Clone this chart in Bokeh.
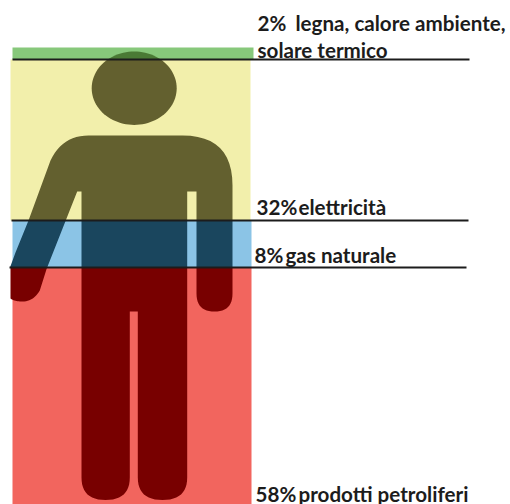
from bokeh.embed import file_html
from bokeh.resources import INLINE
from bokeh.plotting import figure
from bokeh.models import Range1d
from bokeh.core.properties import value
import math

# Stacked shares, as labelled
shares = [2, 32, 8, 58]
labels = ["legna, calore ambiente,\nsolare termico", "elettricità", "gas naturale", "prodotti petroliferi"]
pct_labels = ["2%", "32%", "8%", "58%"]

# Band geometry (picture units)
band_left = [12, 10, 12, 12]
band_right = [253, 250, 251, 251]
band_top = [47, 59, 220, 267]
band_bottom = [59, 220, 267, 504]
band_colors = ["#87c87b", "#f2efab", "#8bc4e6", "#f2655e"]
figure_colors = ["#4a7a35", "#63602f", "#1a465e", "#780000"]

rule_y = [59, 220, 267]
rule_x0 = [12, 11, 9]
rule_x1 = [469, 468, 466]

# Outline of the pictogram: (x, y) corner, or (x, y, "q") as a curve control point
head_center = (133.7, 87.7)
head_radii = (42.5, 36.7)
body_outline = [
    (88, 135), (182, 135), (232, 135, "q"), (232, 185),
    (232, 293), (232, 311, "q"), (214, 311), (196, 311, "q"), (196, 293),
    (196, 191), (186.7, 191),
    (186.7, 477), (186.7, 499.5, "q"), (162, 499.5), (137.3, 499.5, "q"), (137.3, 477),
    (137.3, 311), (129.3, 311),
    (129.3, 477), (129.3, 499.5, "q"), (105, 499.5), (81, 499.5, "q"), (81, 477),
    (81, 191), (76.7, 191),
    (46, 268.7), (39.3, 290), (33, 301, "q"), (22, 301), (14, 301, "q"), (10, 298),
    (10, 267), (9.5, 267),
    (15, 252), (28, 220), (50, 160), (62, 135, "q"), (88, 135),
]


def flatten(outline):
    pts = []
    i = 0
    while i < len(outline):
        pt = outline[i]
        if len(pt) == 3:
            p0 = pts[-1]
            p2 = outline[i + 1]
            for k in range(1, 13):
                t = k / 12
                pts.append(((1 - t) ** 2 * p0[0] + 2 * t * (1 - t) * pt[0] + t * t * p2[0],
                            (1 - t) ** 2 * p0[1] + 2 * t * (1 - t) * pt[1] + t * t * p2[1]))
            i += 2
        else:
            pts.append(pt)
            i += 1
    return pts


def clip_y(poly, y, keep_below):
    """Clip a polygon to one side of a horizontal line."""
    inside = (lambda q: q[1] >= y) if keep_below else (lambda q: q[1] <= y)
    out = []
    for i, a in enumerate(poly):
        b = poly[(i + 1) % len(poly)]
        if inside(a):
            out.append(a)
        if inside(a) != inside(b):
            t = (y - a[1]) / (b[1] - a[1])
            out.append((a[0] + t * (b[0] - a[0]), y))
    return out


head = [(head_center[0] + head_radii[0] * math.cos(2 * math.pi * k / 96),
         head_center[1] + head_radii[1] * math.sin(2 * math.pi * k / 96)) for k in range(96)]
body = flatten(body_outline)

p = figure(width=510, height=504, output_backend="svg", toolbar_location=None,
           x_range=Range1d(0, 510), y_range=Range1d(504, 0),
           min_border=0, min_border_left=0, min_border_right=0, min_border_top=0, min_border_bottom=0,
           outline_line_color=None, background_fill_color="white", border_fill_color="white")
p.axis.visible = False
p.grid.visible = False

p.quad(left=band_left, right=band_right, top=band_top, bottom=band_bottom,
       fill_color=band_colors, line_color=None)

for top, bottom, col in zip(band_top, band_bottom, figure_colors):
    xs, ys = [], []
    for shape in (head, body):
        part = clip_y(clip_y(shape, top, True), bottom, False)
        if part:
            xs.append([q[0] for q in part])
            ys.append([q[1] for q in part])
    p.patches(xs, ys, fill_color=col, line_color=None)

p.segment(x0=rule_x0, y0=rule_y, x1=rule_x1, y1=rule_y, line_color="#1c1c1c", line_width=2)

font = value("Lato")
size = "20.6px"
pct_x = [257, 256, 254, 255]
pct_y = [22, 206, 254, 493]
word_x = [295, 298, 285, 298]
for i in range(4):
    first = labels[i].split("\n")
    p.text([pct_x[i]], [pct_y[i]], text=[pct_labels[i]], text_font=font, text_font_style="bold",
           text_font_size=size, text_color="#1c1c1c", text_baseline="alphabetic")
    p.text([word_x[i]], [pct_y[i]], text=[first[0]], text_font=font, text_font_style="bold",
           text_font_size=size, text_color="#1c1c1c", text_baseline="alphabetic")
    if len(first) > 1:
        p.text([257], [49], text=[first[1]], text_font=font, text_font_style="bold",
               text_font_size=size, text_color="#1c1c1c", text_baseline="alphabetic")

open("out.html", "w").write(file_html(p, INLINE))
